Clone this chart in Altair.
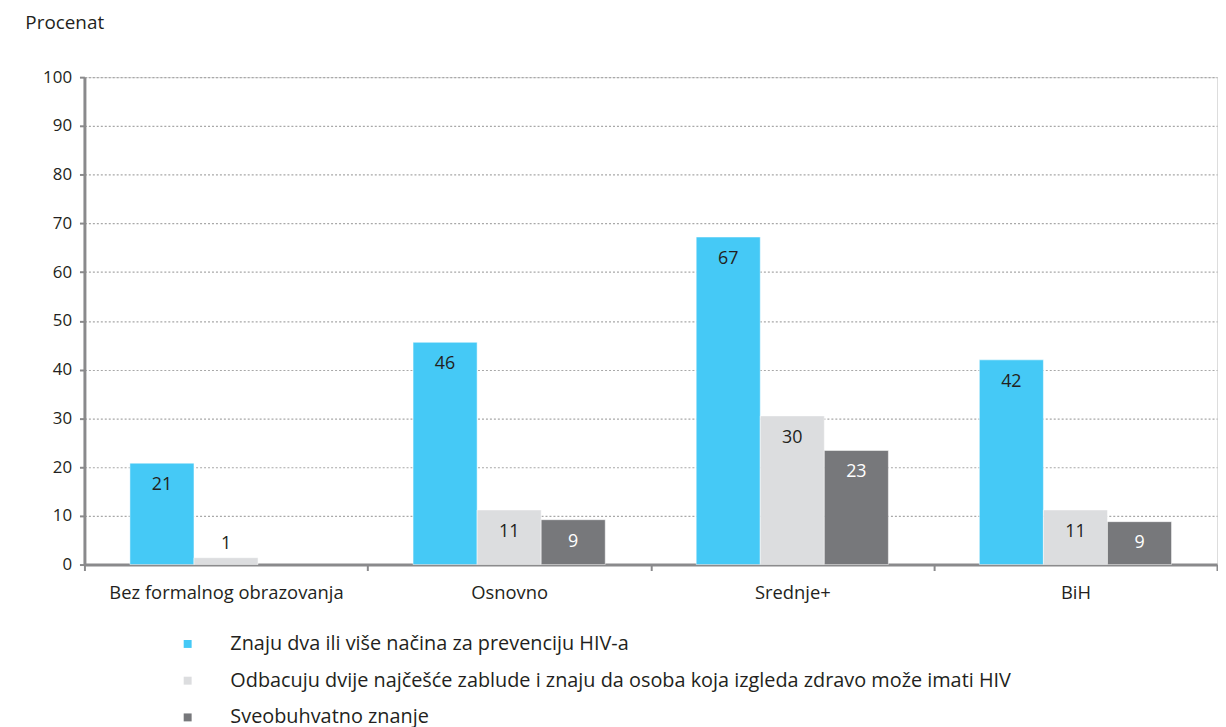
import altair as alt
import pandas as pd

categories = ["Bez formalnog obrazovanja", "Osnovno", "Srednje+", "BiH"]
series = [
    "Znaju dva ili više načina za prevenciju HIV-a",
    "Odbacuju dvije najčešće zablude i znaju da osoba koja izgleda zdravo može imati HIV",
    "Sveobuhvatno znanje",
]
s1_values = [20.8, 45.6, 67.2, 42.0]
s2_values = [1.4, 11.2, 30.5, 11.2]
s3_values = [None, 9.2, 23.4, 8.8]
s1_labels = ["21", "46", "67", "42"]
s2_labels = ["1", "11", "30", "11"]
s3_labels = [None, "9", "23", "9"]
colors = ["#45C9F6", "#DCDDDF", "#77787B"]
y_ticks = [0, 10, 20, 30, 40, 50, 60, 70, 80, 90, 100]

rows = []
for si, (vals, labs) in enumerate([(s1_values, s1_labels), (s2_values, s2_labels), (s3_values, s3_labels)]):
    for c, v, l in zip(categories, vals, labs):
        if v is None:
            continue
        rows.append({"cat": c, "series": series[si], "value": v, "label": l, "dark": si == 2})
df = pd.DataFrame(rows)

FONT = "Open Sans"
TXT = "#231F20"

x_enc = alt.X(
    "cat:N",
    sort=categories,
    scale=alt.Scale(paddingInner=0, paddingOuter=0),
    axis=alt.Axis(
        title=None, labelAngle=0, tickBand="extent", grid=False,
        domainColor="#8a8a8c", domainWidth=3, tickColor="#8a8a8c", tickWidth=2,
        tickSize=6, labelPadding=13, labelFontSize=18.5, labelColor=TXT,
        labelFont=FONT, labelLimit=500,
    ),
)
xoff_enc = alt.XOffset("series:N", sort=series, scale=alt.Scale(paddingInner=0, paddingOuter=0.71))
y_enc = alt.Y(
    "value:Q",
    scale=alt.Scale(domain=[0, 100], nice=False),
    axis=alt.Axis(
        values=y_ticks, title="Procenat", titleAngle=0, titleAlign="left",
        titleBaseline="top", titleX=-60, titleY=-64, titleFontWeight="normal",
        titleFontSize=19, titleFont=FONT, titleColor=TXT,
        grid=True, gridDash=[2, 2], gridColor="#a8a8a8", gridWidth=1.2,
        domainColor="#8a8a8c", domainWidth=3, tickColor="#8a8a8c", tickWidth=2,
        tickSize=5, labelPadding=8, labelFontSize=17, labelColor=TXT,
        labelFont=FONT,
    ),
)

bars = alt.Chart(df).mark_bar(stroke="white", strokeWidth=0.5).encode(
    x=x_enc,
    xOffset=xoff_enc,
    y=y_enc,
    color=alt.Color(
        "series:N", sort=series,
        scale=alt.Scale(domain=series, range=colors),
        legend=alt.Legend(
            title=None, orient="none", legendX=94, legendY=561, direction="vertical",
            symbolType="square", symbolSize=64, symbolStrokeWidth=0,
            labelFontSize=20, labelFont=FONT, labelColor=TXT,
            labelOffset=33, rowPadding=17, labelLimit=1000,
        ),
    ),
)

inside = alt.Chart(df).transform_filter("datum.value >= 5").mark_text(
    dy=22, fontSize=18, font=FONT
).encode(
    x=x_enc, xOffset=xoff_enc, y=y_enc, text="label:N",
    color=alt.condition("datum.dark", alt.value("white"), alt.value(TXT)),
)
above = alt.Chart(df).transform_filter("datum.value < 5").mark_text(
    dy=-14, fontSize=18, font=FONT, color=TXT
).encode(x=x_enc, xOffset=xoff_enc, y=y_enc, text="label:N")

chart = alt.layer(bars, inside, above).properties(
    width=1141, height=491,
    padding={"left": 17, "top": 3, "right": 0, "bottom": 0},
).configure_view(stroke=None).configure(font=FONT)

chart.save("out.html", embed_options={"renderer": "svg", "actions": False})
